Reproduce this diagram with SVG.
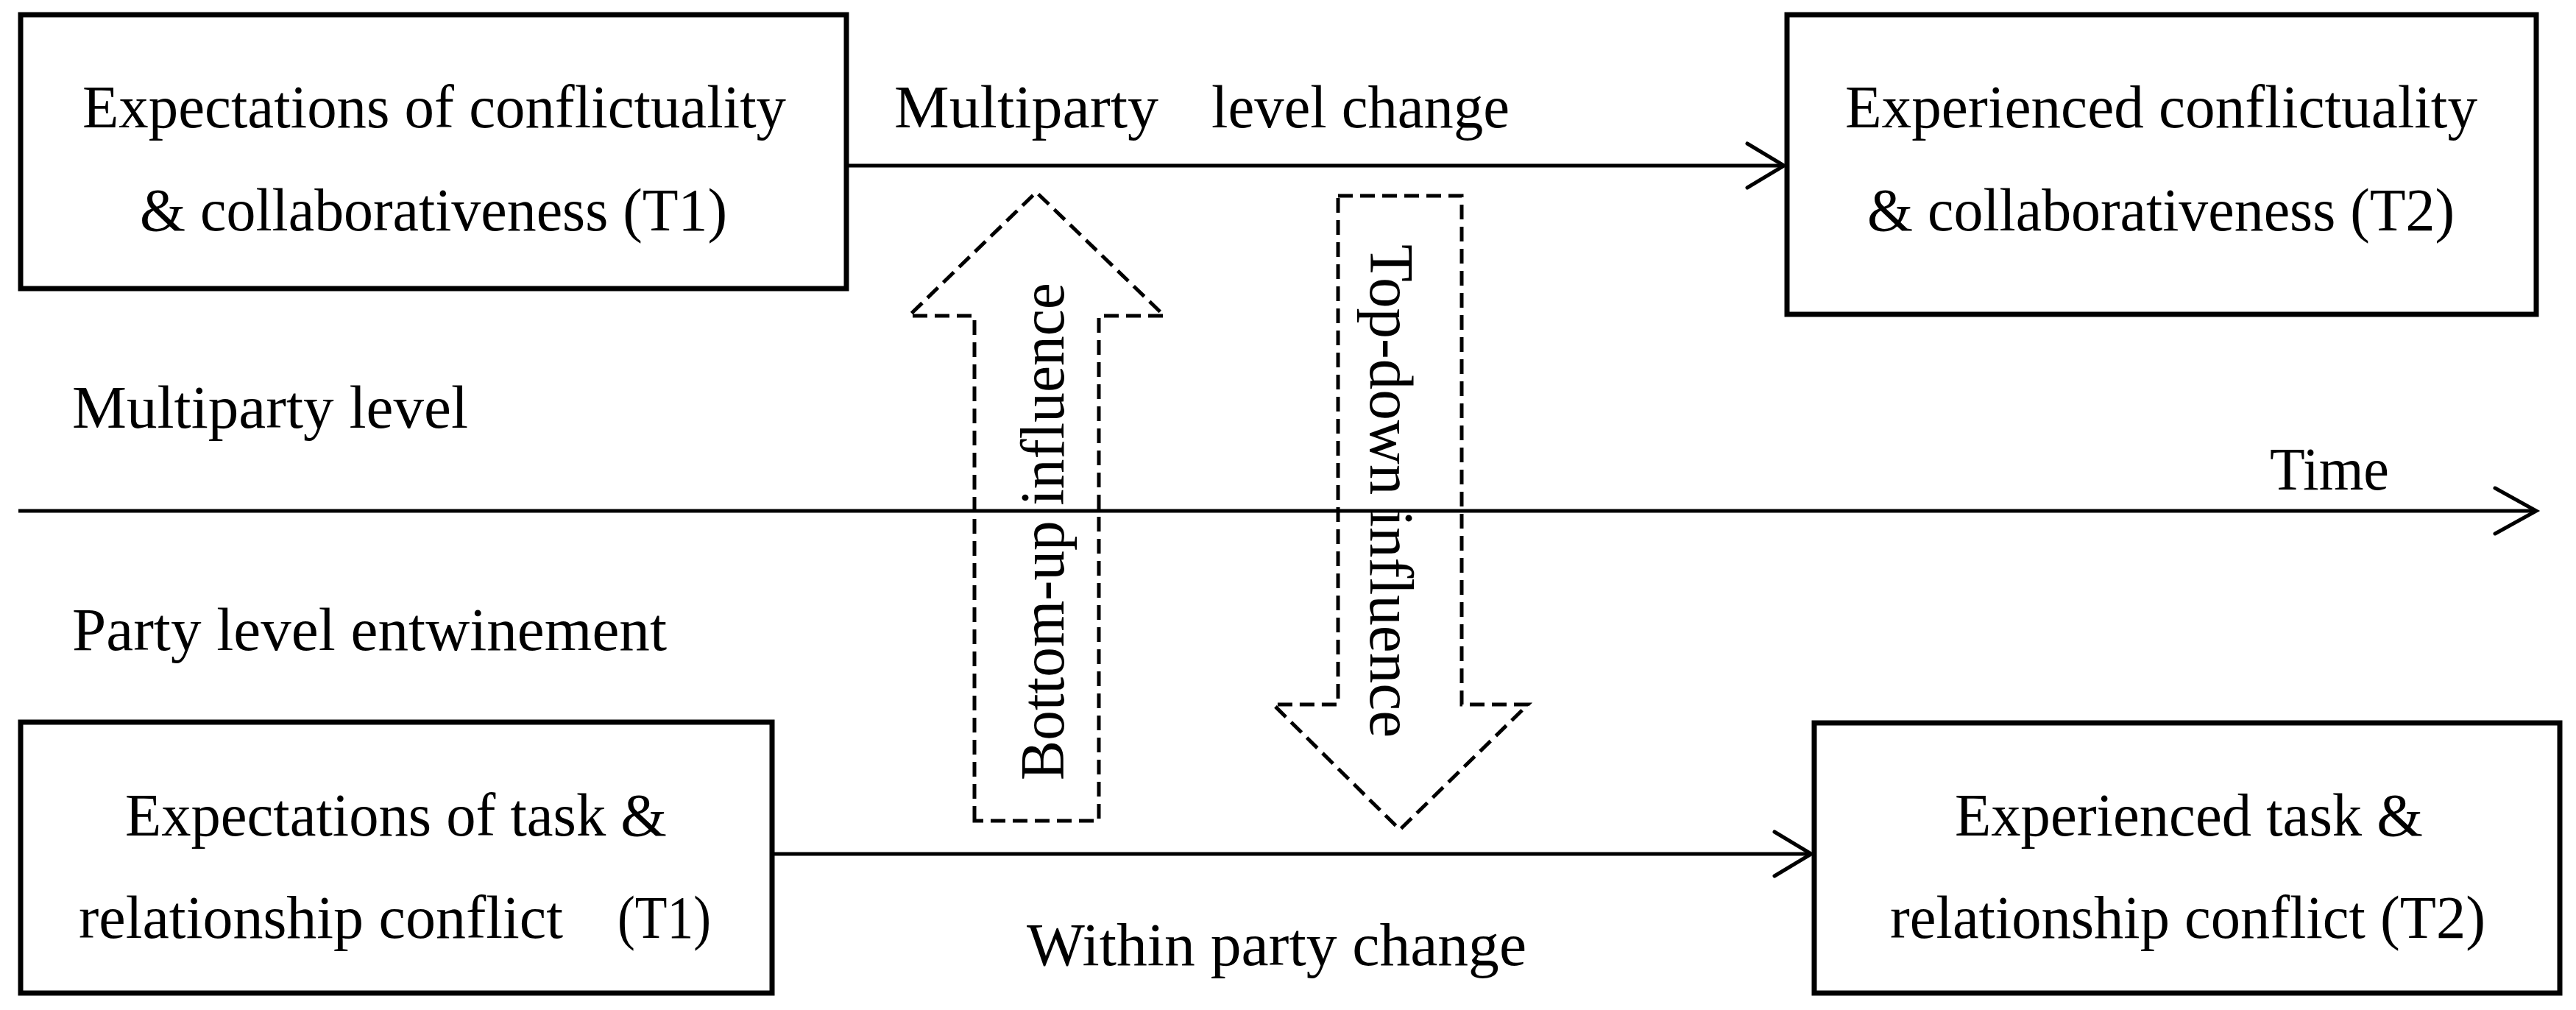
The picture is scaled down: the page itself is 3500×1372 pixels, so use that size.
<svg xmlns="http://www.w3.org/2000/svg" width="3500" height="1372" viewBox="0 0 3500 1372">
<style>
text{font-family:"Liberation Serif","Times New Roman",serif;font-size:82px;fill:#000}
.box{fill:#fff;stroke:#000;stroke-width:7}
.line{stroke:#000;stroke-width:5;fill:none}
.head{stroke:#000;stroke-width:5;fill:none;stroke-linecap:round;stroke-linejoin:miter}
.dash{fill:none;stroke:#000;stroke-width:5;stroke-dasharray:20 10}
.vt{font-size:84px}
</style>
<rect width="3500" height="1372" fill="#fff"/>
<g id="connectors">
  <line class="line" x1="1153" y1="225" x2="2424" y2="225"/>
  <polyline class="head" points="2374,195 2424,225 2374,255"/>
  <line class="line" x1="1052" y1="1160" x2="2461" y2="1160"/>
  <polyline class="head" points="2411,1130 2461,1160 2411,1190"/>
  <line class="line" x1="25" y1="694" x2="3446" y2="694"/>
  <polyline class="head" points="3390,663 3446,694 3390,725"/>
  <text x="1215" y="173" textLength="359" lengthAdjust="spacingAndGlyphs">Multiparty</text>
  <text x="1646" y="173" textLength="405" lengthAdjust="spacingAndGlyphs">level change</text>
  <text x="1395" y="1311" textLength="679" lengthAdjust="spacingAndGlyphs">Within party change</text>
</g>
<g id="bottom-up">
  <polygon class="dash" points="1324,1115 1324,429 1235,429 1408,261 1582,429 1493,429 1493,1115"/>
  <text class="vt" x="1445" y="722" text-anchor="middle" transform="rotate(-90 1445 722)" textLength="676" lengthAdjust="spacingAndGlyphs">Bottom-up influence</text>
</g>
<g id="top-down">
  <polygon class="dash" points="1818,266 1986,266 1986,957 2076,957 1902,1127 1730,957 1818,957"/>
  <text class="vt" x="1862" y="667" text-anchor="middle" transform="rotate(90 1862 667)" textLength="670" lengthAdjust="spacingAndGlyphs">Top-down influence</text>
</g>
<g id="labels">
  <text x="98" y="581" textLength="538" lengthAdjust="spacingAndGlyphs">Multiparty level</text>
  <text x="3084" y="665" textLength="162" lengthAdjust="spacingAndGlyphs">Time</text>
  <text x="98" y="883" textLength="808" lengthAdjust="spacingAndGlyphs">Party level entwinement</text>
</g>
<g id="box-t1-multiparty">
  <rect class="box" x="28" y="20" width="1122" height="372"/>
  <text x="112" y="173" textLength="956" lengthAdjust="spacingAndGlyphs">Expectations of conflictuality</text>
  <text x="190" y="313" textLength="798" lengthAdjust="spacingAndGlyphs">&amp; collaborativeness (T1)</text>
</g>
<g id="box-t2-multiparty">
  <rect class="box" x="2428" y="20" width="1018" height="407"/>
  <text x="2507" y="173" textLength="859" lengthAdjust="spacingAndGlyphs">Experienced conflictuality</text>
  <text x="2537" y="313" textLength="798" lengthAdjust="spacingAndGlyphs">&amp; collaborativeness (T2)</text>
</g>
<g id="box-t1-party">
  <rect class="box" x="28" y="981" width="1021" height="368"/>
  <text x="170" y="1135" textLength="736" lengthAdjust="spacingAndGlyphs">Expectations of task &amp;</text>
  <text x="107" y="1274" textLength="658" lengthAdjust="spacingAndGlyphs">relationship conflict</text>
  <text x="839" y="1274" textLength="127" lengthAdjust="spacingAndGlyphs">(T1)</text>
</g>
<g id="box-t2-party">
  <rect class="box" x="2465" y="982" width="1013" height="367"/>
  <text x="2656" y="1135" textLength="636" lengthAdjust="spacingAndGlyphs">Experienced task &amp;</text>
  <text x="2568" y="1274" textLength="809" lengthAdjust="spacingAndGlyphs">relationship conflict (T2)</text>
</g>
</svg>
